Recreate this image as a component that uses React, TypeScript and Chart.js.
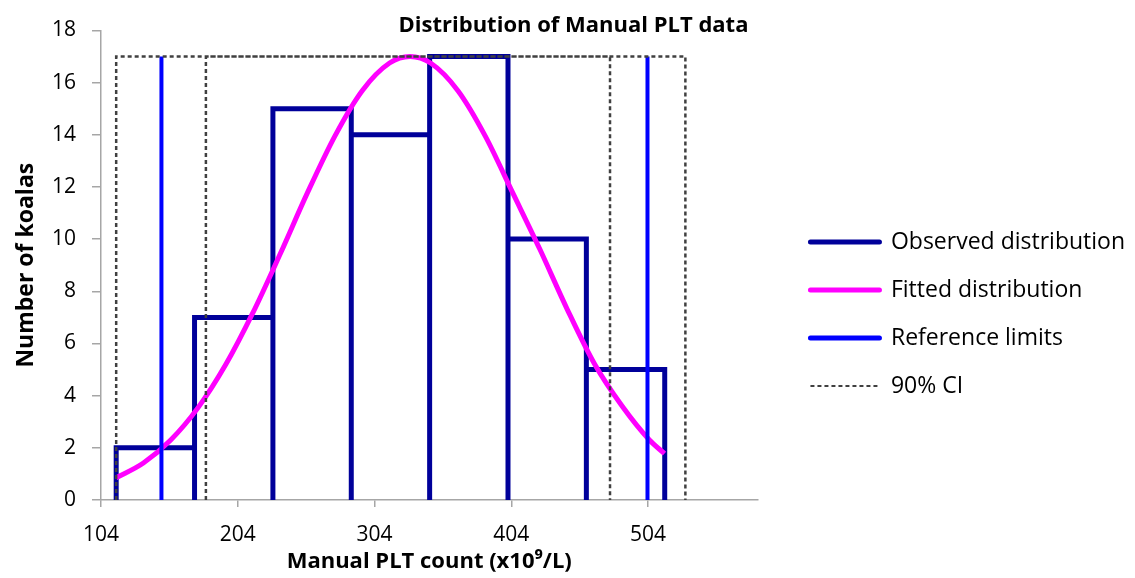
import React, { useEffect, useRef } from "react";
import { Chart, registerables } from "chart.js";

Chart.register(...registerables);

// ---- Data ----
const binEdges = [115.1, 172.4, 229.7, 287.0, 344.3, 401.6, 458.9, 516.2];
const binCounts = [2, 7, 15, 14, 17, 10, 5];

const fittedX = [115, 135, 155, 175, 195, 215, 235, 255, 275, 295, 315, 330, 345, 365, 385, 405, 425, 445, 465, 485, 505, 516];
const fittedY = [0.85, 1.42, 2.3, 3.54, 5.17, 7.17, 9.43, 11.78, 13.95, 15.69, 16.75, 17, 16.75, 15.69, 13.95, 11.78, 9.6, 7.3, 5.2, 3.6, 2.3, 1.78];

const referenceLimits = [148.2, 503.6];
const ciLower = [115.1, 180.7];
const ciUpper = [476.2, 531.3];
const markerHeight = 17;

const xTickValues = [104, 204, 304, 404, 504];
const xMin = 104;
const xMax = 584;
const yMin = 0;
const yMax = 18;
const yStep = 2;

const seriesNames = ["Observed distribution", "Fitted distribution", "Reference limits", "90% CI"];
const chartTitle = "Distribution of Manual PLT data";
const xTitle = "Manual PLT count (x10\u2079/L)";
const yTitle = "Number of koalas";

const NAVY = "#00009a";
const MAGENTA = "#ff00ff";
const BLUE = "#0000ff";
const DARK = "#404040";
const AXIS = "#a6a6a6";
const FONT = "'Open Sans', 'Noto Sans', sans-serif";

function buildObserved() {
  const pts: { x: number; y: number }[] = [];
  binCounts.forEach((c, i) => {
    const a = binEdges[i];
    const b = binEdges[i + 1];
    pts.push({ x: a, y: 0 }, { x: a, y: c }, { x: b, y: c }, { x: b, y: 0 });
  });
  return pts;
}

function buildRef() {
  const pts: { x: number; y: number | null }[] = [];
  referenceLimits.forEach((v, i) => {
    if (i > 0) pts.push({ x: v, y: null });
    pts.push({ x: v, y: 0 }, { x: v, y: markerHeight });
  });
  return pts;
}

function buildCI() {
  const pts: { x: number; y: number | null }[] = [];
  ciLower.forEach((lo, i) => {
    const hi = ciUpper[i];
    if (i > 0) pts.push({ x: lo, y: null });
    pts.push({ x: lo, y: 0 }, { x: lo, y: markerHeight }, { x: hi, y: markerHeight }, { x: hi, y: 0 });
  });
  return pts;
}

export default function App() {
  const ref = useRef<HTMLCanvasElement | null>(null);

  useEffect(() => {
    if (!ref.current) return;
    Chart.defaults.font.family = FONT;
    const legendItem = (i: number, color: string, width: number, dash: number[], cap: string) => ({
      text: seriesNames[i],
      strokeStyle: color,
      fillStyle: color,
      fontColor: "#000",
      lineWidth: width,
      lineCap: cap,
      lineDash: dash,
      pointStyle: "line",
      hidden: false,
      datasetIndex: i,
    });
    const chart = new Chart(ref.current, {
      type: "scatter",
      data: {
        datasets: [
          {
            label: seriesNames[0],
            data: buildObserved(),
            showLine: true,
            borderColor: NAVY,
            backgroundColor: NAVY,
            borderWidth: 5,
            borderJoinStyle: "miter",
            pointRadius: 0,
            order: 4,
          },
          {
            label: seriesNames[1],
            data: fittedX.map((x, i) => ({ x, y: fittedY[i] })),
            showLine: true,
            borderColor: MAGENTA,
            backgroundColor: MAGENTA,
            borderWidth: 5,
            tension: 0.4,
            cubicInterpolationMode: "monotone",
            pointRadius: 0,
            order: 3,
          },
          {
            label: seriesNames[2],
            data: buildRef(),
            showLine: true,
            spanGaps: false,
            borderColor: BLUE,
            backgroundColor: BLUE,
            borderWidth: 4,
            pointRadius: 0,
            order: 2,
          },
          {
            label: seriesNames[3],
            data: buildCI(),
            showLine: true,
            spanGaps: false,
            borderColor: DARK,
            backgroundColor: DARK,
            borderWidth: 2.5,
            borderDash: [4, 3],
            pointRadius: 0,
            order: 1,
          },
        ] as any,
      },
      options: {
        animation: false,
        responsive: true,
        maintainAspectRatio: false,
        layout: { padding: { left: 12, right: 0, top: 0, bottom: 0 } },
        plugins: {
          title: {
            display: true,
            text: chartTitle,
            color: "#000",
            font: { size: 22, weight: "bold", lineHeight: 1.2 },
            padding: { top: 13, bottom: -9 },
          },
          legend: {
            position: "right",
            align: "center",
            maxWidth: 352,
            title: { display: true, text: " ", font: { size: 20 }, padding: 13 },
            labels: {
              usePointStyle: true,
              pointStyleWidth: 69,
              boxHeight: 5,
              padding: 25,
              color: "#000",
              font: { size: 23 },
              generateLabels: () =>
                [
                  legendItem(0, NAVY, 5, [], "round"),
                  legendItem(1, MAGENTA, 5, [], "round"),
                  legendItem(2, BLUE, 5, [], "round"),
                  legendItem(3, DARK, 2, [4, 3], "butt"),
                ] as any,
            },
          },
          tooltip: { enabled: false },
        },
        scales: {
          x: {
            type: "linear",
            min: xMin,
            max: xMax,
            afterBuildTicks: (s: any) => {
              s.ticks = xTickValues.map((v) => ({ value: v }));
            },
            afterFit: (s: any) => {
              s.height = 78;
            },
            grid: { display: true, drawOnChartArea: false, drawTicks: true, tickLength: 7, color: AXIS, lineWidth: 1.5 },
            border: { display: true, color: AXIS, width: 1.5 },
            ticks: { color: "#000", font: { size: 21 }, padding: 15, maxRotation: 0, autoSkip: false, callback: (v: any) => String(v) },
            title: { display: true, text: xTitle, color: "#000", font: { size: 22, weight: "bold" }, padding: { top: 0, bottom: 3 } },
          },
          y: {
            type: "linear",
            min: yMin,
            max: yMax,
            afterFit: (s: any) => {
              s.width = 89;
            },
            grid: { display: true, drawOnChartArea: false, drawTicks: true, tickLength: 9, color: AXIS, lineWidth: 1.5 },
            border: { display: true, color: AXIS, width: 1.5 },
            ticks: { stepSize: yStep, color: "#000", font: { size: 21 }, padding: 16 },
            title: { display: true, text: yTitle, color: "#000", font: { size: 23, weight: "bold" }, padding: { top: 1, bottom: 0 } },
          },
          gap: {
            type: "linear",
            axis: "y",
            position: "right",
            display: true,
            grid: { display: false },
            border: { display: false },
            ticks: { display: false },
            afterFit: (s: any) => {
              s.width = 28;
            },
          },
        } as any,
      },
    });
    return () => chart.destroy();
  }, []);

  return (
    <div style={{ position: "fixed", left: 0, top: 0, width: 1135, height: 578, background: "#fff" }}>
      <canvas ref={ref} />
    </div>
  );
}
